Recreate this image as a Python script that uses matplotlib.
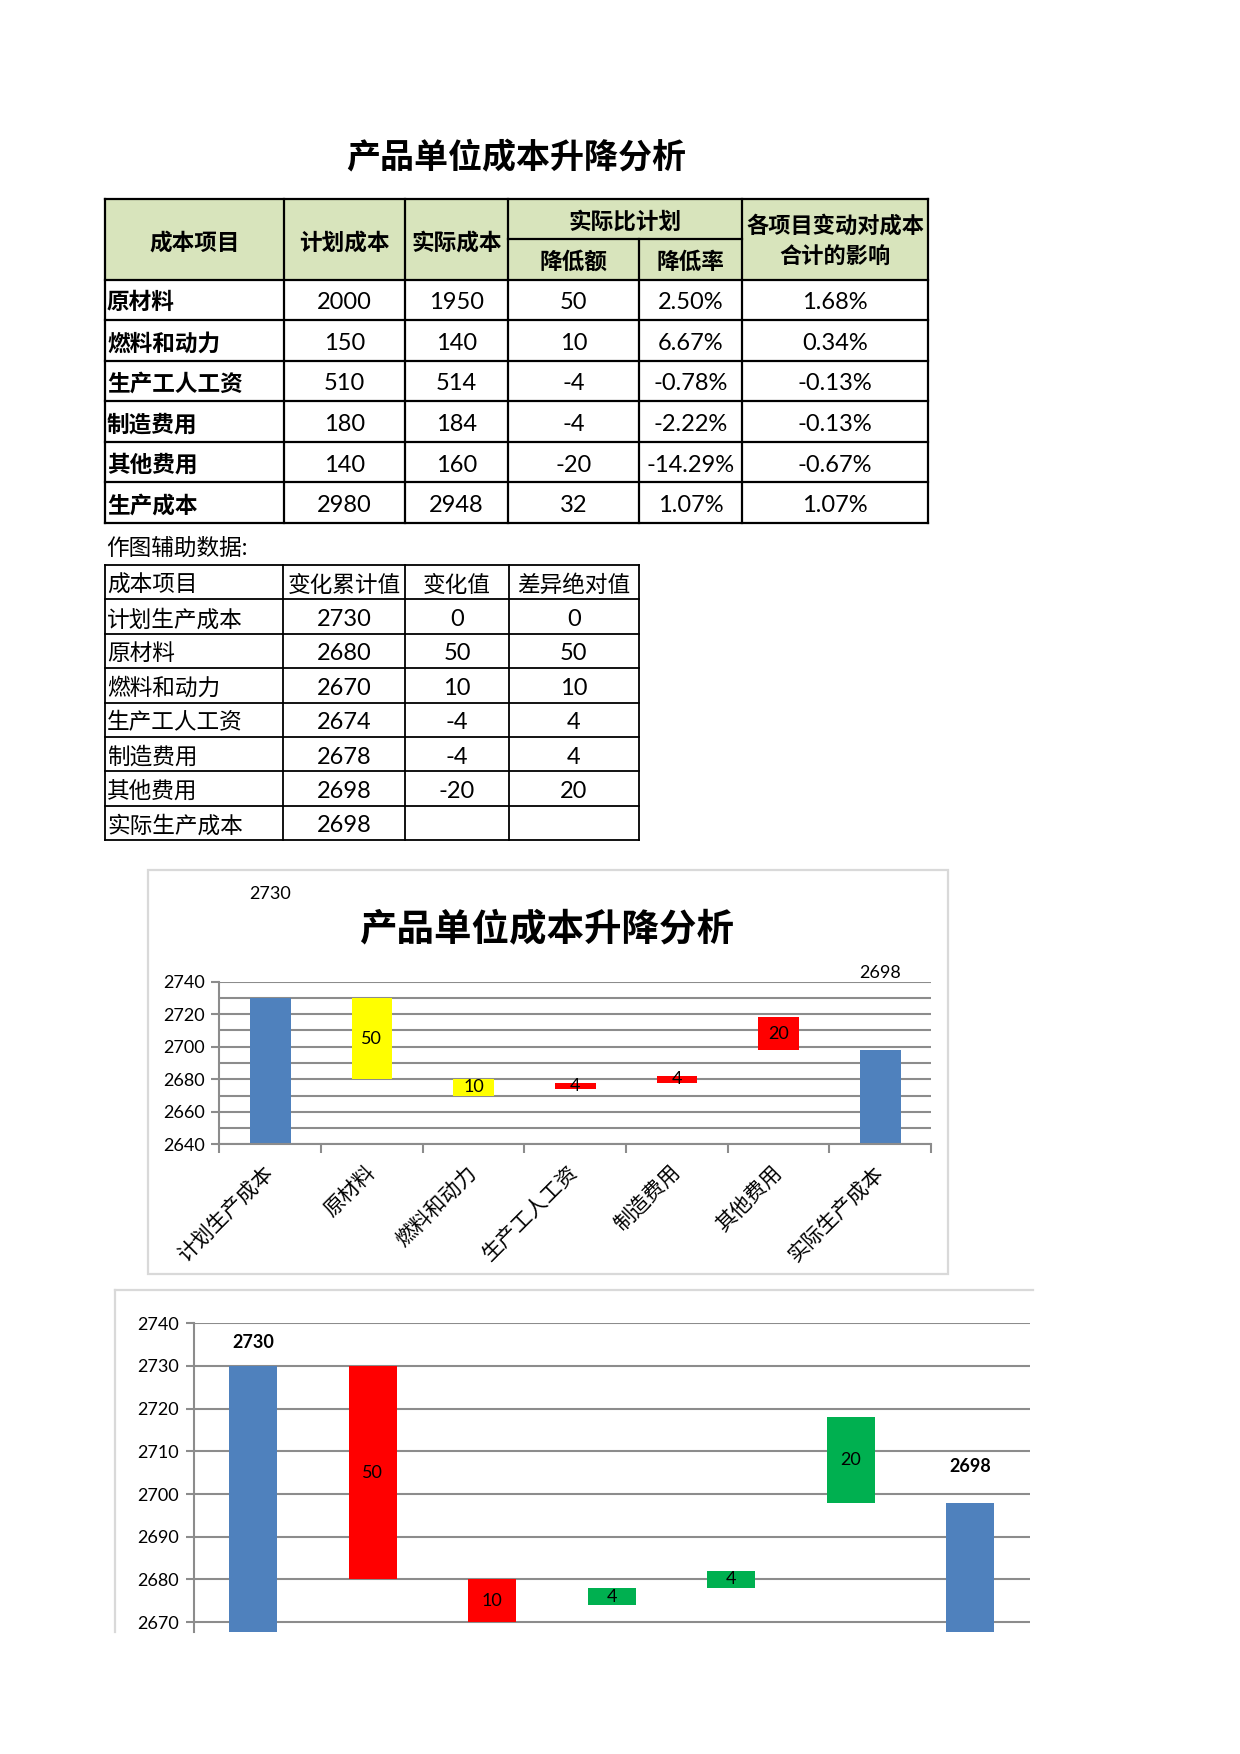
#产品单位成本升降分析 - table + waterfall charts

import numpy as np
import matplotlib
matplotlib.use("Agg")
import matplotlib.pyplot as plt
from matplotlib.patches import Rectangle

plt.rcParams['font.family'] = ['Lato', 'Noto Sans CJK SC']

W, H = 1240, 1754

# main table data
items = ['原材料', '燃料和动力', '生产工人工资', '制造费用', '其他费用', '生产成本']
plan_cost = [2000, 150, 510, 180, 140, 2980]
actual_cost = [1950, 140, 514, 184, 160, 2948]
reduce_amt = [50, 10, -4, -4, -20, 32]
reduce_rate = ['2.50%', '6.67%', '-0.78%', '-2.22%', '-14.29%', '1.07%']
impact = ['1.68%', '0.34%', '-0.13%', '-0.13%', '-0.67%', '1.07%']

# helper data for the charts
chart_items = ['计划生产成本', '原材料', '燃料和动力', '生产工人工资', '制造费用', '其他费用', '实际生产成本']
cum_values = [2730, 2680, 2670, 2674, 2678, 2698, 2698]
change_values = [0, 50, 10, -4, -4, -20, None]
abs_diff = [0, 50, 10, 4, 4, 20, None]

title = '产品单位成本升降分析'

BLUE = '#4F81BD'
GRID = '#8C8C8C'


def px_rect(left, top, right, bottom):
    return [left / W, 1 - bottom / H, (right - left) / W, (bottom - top) / H]


fig = plt.figure(figsize=(W / 100, H / 100), dpi=100)
ax0 = fig.add_axes([0, 0, 1, 1])
ax0.set_xlim(0, W)
ax0.set_ylim(H, 0)
ax0.axis('off')

ax0.text(516, 158, title, fontsize=24.5, fontweight='bold', ha='center', va='center')

fs = 16.3      # CJK text in the tables
fs_num = 17    # numbers in the tables
dy = 3         # text sits a bit low in the cells

######################
### first table    ###
######################
cols = [105, 284, 405, 508, 639, 742, 928]
head_top, head_mid, head_bot = 199, 239, 279.5
row_edges = np.linspace(head_bot, 523, len(items) + 1)
lw1 = 1.6

ax0.add_patch(Rectangle((cols[0], head_top), cols[-1] - cols[0], head_bot - head_top,
                        facecolor='#D8E4BC', edgecolor='none'))
for y in [head_top, head_bot] + list(row_edges[1:]):
    ax0.plot([cols[0], cols[-1]], [y, y], color='black', lw=lw1)
ax0.plot([cols[3], cols[5]], [head_mid, head_mid], color='black', lw=lw1)
for i, x in enumerate(cols):
    y0 = head_mid if i == 4 else head_top
    ax0.plot([x, x], [y0, row_edges[-1]], color='black', lw=lw1)

hy = (head_top + head_bot) / 2 + dy
ax0.text((cols[0] + cols[1]) / 2, hy, '成本项目', fontsize=fs, fontweight='bold', ha='center', va='center')
ax0.text((cols[1] + cols[2]) / 2, hy, '计划成本', fontsize=fs, fontweight='bold', ha='center', va='center')
ax0.text((cols[2] + cols[3]) / 2, hy, '实际成本', fontsize=fs, fontweight='bold', ha='center', va='center')
ax0.text((cols[3] + cols[5]) / 2, (head_top + head_mid) / 2 + dy, '实际比计划', fontsize=fs,
         fontweight='bold', ha='center', va='center')
ax0.text((cols[3] + cols[4]) / 2, (head_mid + head_bot) / 2 + dy, '降低额', fontsize=fs,
         fontweight='bold', ha='center', va='center')
ax0.text((cols[4] + cols[5]) / 2, (head_mid + head_bot) / 2 + dy, '降低率', fontsize=fs,
         fontweight='bold', ha='center', va='center')
ax0.text((cols[5] + cols[6]) / 2, 226, '各项目变动对成本', fontsize=16, fontweight='bold', ha='center', va='center')
ax0.text((cols[5] + cols[6]) / 2, 257, '合计的影响', fontsize=16, fontweight='bold', ha='center', va='center')

for r in range(len(items)):
    yc = (row_edges[r] + row_edges[r + 1]) / 2 + dy
    ax0.text(cols[0] + 2, yc, items[r], fontsize=fs, fontweight='bold', ha='left', va='center')
    vals = [plan_cost[r], actual_cost[r], reduce_amt[r], reduce_rate[r], impact[r]]
    for c, v in enumerate(vals):
        ax0.text((cols[c + 1] + cols[c + 2]) / 2, yc, str(v), fontsize=fs_num, ha='center', va='center')

ax0.text(106, 548, '作图辅助数据:', fontsize=fs, ha='left', va='center')

######################
### helper table   ###
######################
cols2 = [105, 283, 405, 509, 638.5]
row_edges2 = np.linspace(565, 840, len(chart_items) + 2)
lw2 = 1.3
for y in row_edges2:
    ax0.plot([cols2[0], cols2[-1]], [y, y], color='black', lw=lw2)
for x in cols2:
    ax0.plot([x, x], [row_edges2[0], row_edges2[-1]], color='black', lw=lw2)

header2 = ['成本项目', '变化累计值', '变化值', '差异绝对值']
yc = (row_edges2[0] + row_edges2[1]) / 2 + dy
ax0.text(cols2[0] + 2, yc, header2[0], fontsize=fs, ha='left', va='center')
for c in range(1, 4):
    ax0.text((cols2[c] + cols2[c + 1]) / 2, yc, header2[c], fontsize=fs, ha='center', va='center')

for r in range(len(chart_items)):
    yc = (row_edges2[r + 1] + row_edges2[r + 2]) / 2 + dy
    ax0.text(cols2[0] + 2, yc, chart_items[r], fontsize=fs, ha='left', va='center')
    vals = [cum_values[r], change_values[r], abs_diff[r]]
    for c, v in enumerate(vals):
        if v is None:
            continue
        ax0.text((cols2[c + 1] + cols2[c + 2]) / 2, yc, str(v), fontsize=fs_num, ha='center', va='center')

######################
### chart 1        ###
######################
ax0.add_patch(Rectangle((147.6, 870), 948 - 147.6, 1274 - 870, facecolor='none',
                        edgecolor='#D9D9D9', lw=1.6))
ax0.text(547, 928, title, fontsize=27, fontweight='bold', ha='center', va='center')

x = np.arange(len(chart_items))
tops = [0 if v is None else v for v in abs_diff]
base_colors = [BLUE] + ['none'] * (len(chart_items) - 2) + [BLUE]


def setup_axis(ax, ylo, yhi, major, minor):
    ax.set_xlim(-0.5, len(chart_items) - 0.5)
    ax.set_ylim(ylo, yhi)
    ax.set_yticks(major)
    ax.set_yticks(minor, minor=True)
    ax.tick_params(axis='y', which='major', length=6, width=1.5, color=GRID, pad=4.5, labelsize=13)
    ax.tick_params(axis='y', which='minor', length=0)
    ax.grid(axis='y', which='both', color=GRID, lw=1.5)
    ax.set_axisbelow(True)
    for s in ['top', 'right']:
        ax.spines[s].set_visible(False)
    ax.spines['left'].set_color(GRID)
    ax.spines['left'].set_linewidth(1.5)
    ax.spines['bottom'].set_color(GRID)
    ax.spines['bottom'].set_linewidth(1.5)


ax1 = fig.add_axes(px_rect(219.4, 981.7, 931, 1144.3))
setup_axis(ax1, 2640, 2740, np.arange(2640, 2741, 20), np.arange(2640, 2741, 10))
colors1 = ['none', '#FFFF00', '#FFFF00', '#FF0000', '#FF0000', '#FF0000', 'none']
ax1.bar(x, cum_values, width=0.4, color=base_colors)
ax1.bar(x, tops, bottom=cum_values, width=0.4, color=colors1)
for i in range(1, len(chart_items) - 1):
    ax1.text(i, cum_values[i] + tops[i] / 2, str(tops[i]), fontsize=13, ha='center', va='center')
ax1.annotate(str(cum_values[0]), xy=(0, 2740), xytext=(0, 88), textcoords='offset pixels',
             ha='center', va='center', fontsize=13, annotation_clip=False)
ax1.annotate(str(cum_values[-1]), xy=(len(chart_items) - 1, 2740), xytext=(0, 9),
             textcoords='offset pixels', ha='center', va='center', fontsize=13, annotation_clip=False)

ax1.set_xticks(x)
ax1.set_xticklabels(chart_items, fontweight='medium')
ax1.set_xticks(np.arange(-0.5, len(chart_items)), minor=True)
ax1.tick_params(axis='x', which='major', length=0, pad=18, labelsize=15)
ax1.tick_params(axis='x', which='minor', length=6.5, width=1.5, color=GRID)
plt.setp(ax1.get_xticklabels(), rotation=45, ha='right', va='center', rotation_mode='anchor')

######################
### chart 2        ###
######################
ax0.plot([115, 1033], [1290, 1290], color='#D9D9D9', lw=1.6)
ax0.plot([115, 115], [1290, 1632], color='#D9D9D9', lw=1.6)

ax2 = fig.add_axes(px_rect(193.6, 1323.3, 1030, 1632))
setup_axis(ax2, 2667.7, 2740, np.arange(2670, 2741, 10), [])
ax2.spines['bottom'].set_visible(False)
ax2.set_xticks([])
colors2 = ['none', '#FF0000', '#FF0000', '#00B050', '#00B050', '#00B050', 'none']
ax2.bar(x, cum_values, width=0.4, color=base_colors)
ax2.bar(x, tops, bottom=cum_values, width=0.4, color=colors2)
for i in range(1, len(chart_items) - 1):
    ax2.text(i, cum_values[i] + tops[i] / 2, str(tops[i]), fontsize=13, ha='center', va='center')
ax2.annotate(str(cum_values[0]), xy=(0, cum_values[0]), xytext=(0, 23), textcoords='offset pixels',
             ha='center', va='center', fontsize=13, fontweight='bold', annotation_clip=False)
ax2.annotate(str(cum_values[-1]), xy=(len(chart_items) - 1, cum_values[-1]), xytext=(0, 36),
             textcoords='offset pixels', ha='center', va='center', fontsize=13, fontweight='bold',
             annotation_clip=False)

fig.savefig('out.png', dpi=100)
